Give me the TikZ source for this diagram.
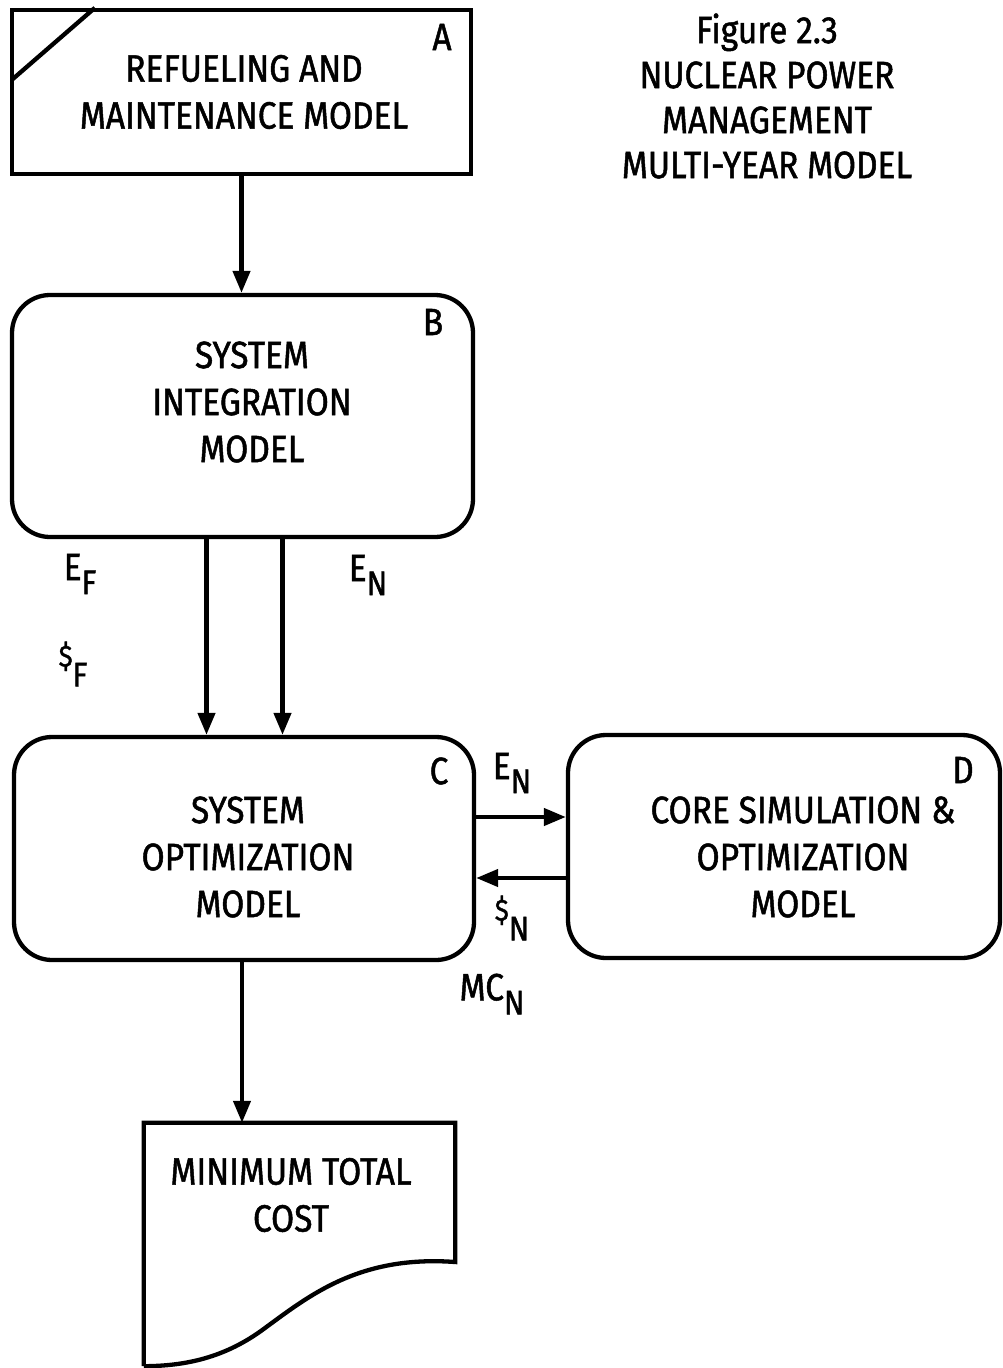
\documentclass[tikz,border=0pt]{standalone}
\usepackage{fontspec}
\setmainfont{Fira Sans}[FakeStretch=0.88,FakeBold=1.3]
\usetikzlibrary{arrows.meta}
\newcommand\lsub[2]{#1\raisebox{-14pt}{\fontsize{34}{34}\selectfont #2}}
\newcommand\dol{\raisebox{6pt}{\fontsize{30}{30}\selectfont\$}}
\begin{document}
\begin{tikzpicture}[x=1pt,y=-1pt,
  every node/.style={font=\fontsize{38}{47}\selectfont, align=center, inner sep=0pt},
  ln/.style={line width=4.3pt},
  arr/.style={ln,-{Triangle[length=22pt,width=17pt]}},
  sqbox/.style={draw, ln},
  rbox/.style={draw, ln, rounded corners=38pt}]
\useasboundingbox (0,0) rectangle (1002,1368);
% boxes
\node[sqbox, minimum width=459pt, minimum height=164pt] (A) at (241.5,92) {};
\node[rbox, minimum width=461pt, minimum height=242pt] (B) at (242.5,416) {};
\node[rbox, minimum width=460pt, minimum height=223pt] (C) at (244,848.5) {};
\node[rbox, minimum width=432pt, minimum height=223pt] (D) at (784,846.5) {};
\node[minimum width=311pt, minimum height=243pt] (E) at (299.5,1244.5) {};
% diagonal corner of A
\draw[ln] ([xshift=85pt]A.north west) -- ([xshift=2pt,yshift=-72pt]A.north west);
% document outline
\draw[ln] (E.south west) -- (E.north west) -- (E.north east) -- (E.north east |- 0,1262)
  .. controls (360,1255) and (310,1295) .. (265,1328)
  .. controls (225,1358) and (185,1366) .. (E.south west);
% texts
\node (At) at (244,92) {REFUELING AND\\MAINTENANCE MODEL};
\node (Bt) at (252,402) {SYSTEM\\INTEGRATION\\MODEL};
\node (Ct) at (248,857) {SYSTEM\\OPTIMIZATION\\MODEL};
\node (Dt) at (803,857) {CORE SIMULATION \&\\OPTIMIZATION\\MODEL};
\node (Et) at (291,1195) {MINIMUM TOTAL\\COST};
\node[font=\fontsize{38}{45}\selectfont] (T) at (767,96) {Figure 2.3\\NUCLEAR POWER\\MANAGEMENT\\MULTI-YEAR MODEL};
% corner letters
\node (Al) at (442,37) {A};
\node (Bl) at (433,322) {B};
\node (Cl) at (439,771) {C};
\node (Dl) at (963,770) {D};
% connectors
\draw[arr] (A.south) -- (A.south |- B.north);
\draw[arr] ([xshift=-36pt]B.south) -- ([xshift=-36pt]B.south |- C.north);
\draw[arr] ([xshift=40pt]B.south) -- ([xshift=40pt]B.south |- C.north);
\draw[arr] ([yshift=31.5pt]C.east) -- ([yshift=31.5pt]C.east -| D.west);
\draw[arr] ([yshift=-29.5pt]C.east -| D.west) -- ([yshift=-29.5pt]C.east);
\draw[arr] ([xshift=-2pt]C.south) -- ([xshift=-2pt]C.south |- E.north);
% flow labels
\node (lEF) at (80,574) {\lsub{E}{F}};
\node (lSF) at (73,664) {\lsub{\dol}{F}};
\node (lEN1) at (368,575) {\lsub{E}{N}};
\node (lEN2) at (512,773) {\lsub{E}{N}};
\node (lSN) at (512,918) {\lsub{\dol}{N}};
\node (lMC) at (492,994) {\lsub{MC}{N}};
\end{tikzpicture}
\end{document}
